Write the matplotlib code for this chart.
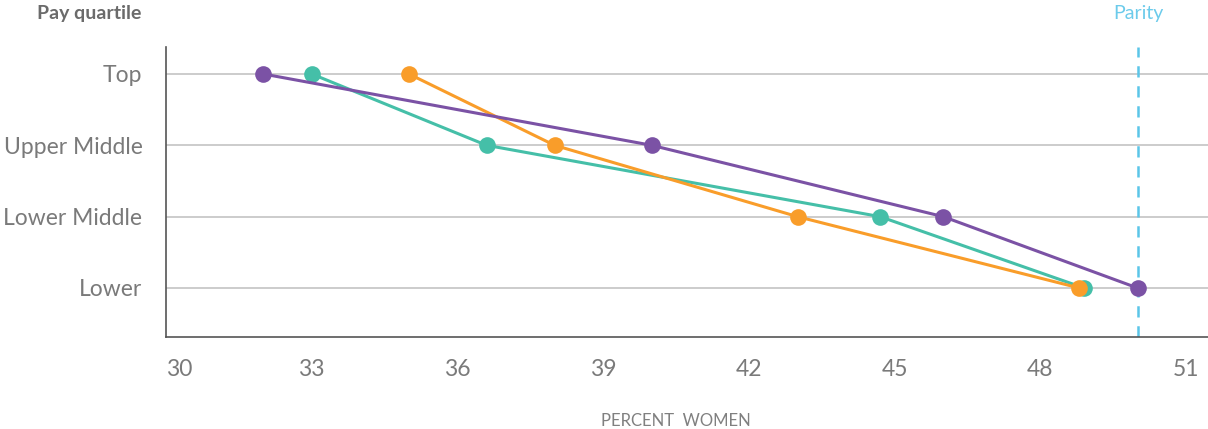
import matplotlib
matplotlib.use('Agg')
from matplotlib import pyplot as plt

quartiles = ['Top', 'Upper Middle', 'Lower Middle', 'Lower']
purple_vals = [32.0, 40.0, 46.0, 50.0]
teal_vals = [33.0, 36.6, 44.7, 48.9]
orange_vals = [35.0, 38.0, 43.0, 48.8]
x_ticks = [30, 33, 36, 39, 42, 45, 48, 51]
parity = 50

plt.rcParams['font.family'] = ['Lato', 'DejaVu Sans']

fig = plt.figure(figsize=(12.08, 4.29), dpi=100)
ax = fig.add_axes([166/1208, 92/429, 1 - 166/1208, 290/429])

ypos = list(range(len(quartiles)))
for y in ypos:
    ax.axhline(y, color='#c4c4c4', lw=1.2, zorder=1)

ax.axvline(parity, color='#5bc5e8', lw=1.8, ls=(0, (4.5, 3.5)), zorder=1)

series = [(teal_vals, '#45bfa8'), (orange_vals, '#f99d2a'), (purple_vals, '#7b52a5')]
for vals, col in series:
    ax.plot(vals, ypos, color=col, lw=2.2, marker='o', markersize=12,
            markeredgewidth=0, zorder=3)

ax.set_xlim(30.0, 51.45)
ax.set_ylim(3.687, -0.378)

ax.set_yticks(ypos)
ax.set_yticklabels(quartiles)
ax.set_xticks(x_ticks)
ax.set_xticklabels([str(t) for t in x_ticks])
ax.tick_params(axis='y', length=0, pad=17, labelsize=16.5, labelcolor='#7a7a7a')
ax.tick_params(axis='x', length=0, pad=16, labelsize=16.5, labelcolor='#7a7a7a')
ax.get_xticklabels()[0].set_horizontalalignment('left')

for side in ['top', 'right']:
    ax.spines[side].set_visible(False)
ax.spines['left'].set_color('#555555')
ax.spines['bottom'].set_color('#555555')
ax.spines['left'].set_linewidth(1.2)
ax.spines['bottom'].set_linewidth(1.2)

fig.text(37/1208, 1 - 14/429, 'Pay quartile', fontsize=14, fontweight='bold',
         color='#6b6b6b', ha='left', va='center')
fig.text(1138/1208, 1 - 14/429, 'Parity', fontsize=14, color='#6ccbeb',
         ha='center', va='center')
fig.text(676/1208, 1 - 421/429, 'PERCENT  WOMEN',
         fontsize=12, color='#808080', ha='center', va='center')

fig.savefig('out.png', dpi=100)
